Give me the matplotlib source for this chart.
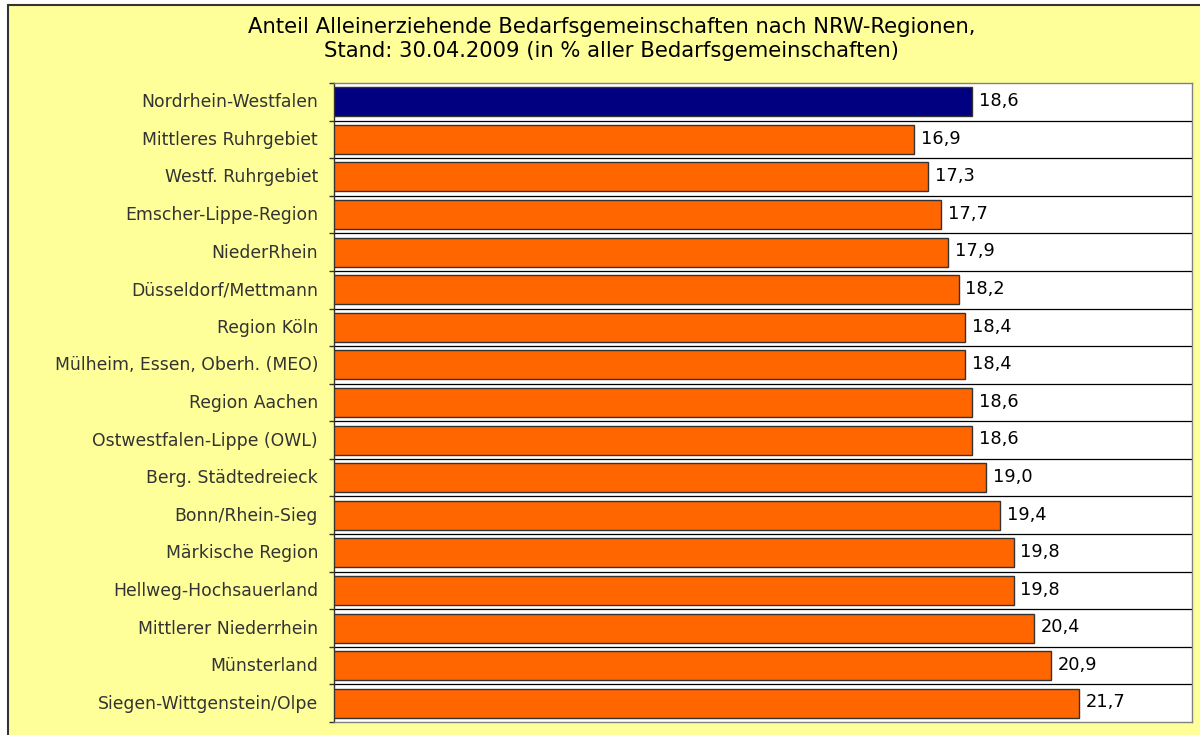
import matplotlib.pyplot as plt
from matplotlib.patches import Rectangle
import numpy as np

regionen = ["Nordrhein-Westfalen", "Mittleres Ruhrgebiet", "Westf. Ruhrgebiet",
            "Emscher-Lippe-Region", "NiederRhein", "Düsseldorf/Mettmann",
            "Region Köln", "Mülheim, Essen, Oberh. (MEO)", "Region Aachen",
            "Ostwestfalen-Lippe (OWL)", "Berg. Städtedreieck", "Bonn/Rhein-Sieg",
            "Märkische Region", "Hellweg-Hochsauerland", "Mittlerer Niederrhein",
            "Münsterland", "Siegen-Wittgenstein/Olpe"]
anteil = [18.6, 16.9, 17.3, 17.7, 17.9, 18.2, 18.4, 18.4, 18.6,
          18.6, 19.0, 19.4, 19.8, 19.8, 20.4, 20.9, 21.7]

plt.rcParams['font.family'] = 'DejaVu Sans'

fig = plt.figure(figsize=(12, 7.35), dpi=100, facecolor='white')
# yellow chart area with dark frame
fig.patches.append(Rectangle((8/1200, -0.05), 1.1, 1 - 5/735 + 0.05,
                             transform=fig.transFigure, facecolor='#FFFF99',
                             edgecolor='#333333', linewidth=1.5, zorder=-5))

ax = fig.add_axes([334/1200, 1 - 722/735, (1192 - 334)/1200, (722 - 83)/735])
ax.set_facecolor('white')

y = np.arange(len(regionen))
farben = ['#000080'] + ['#FF6600'] * (len(regionen) - 1)
ax.barh(y, anteil, height=0.77, color=farben, edgecolor='#333333',
        linewidth=1, zorder=3)

for yi, v in zip(y, anteil):
    ax.text(v + 0.2, yi - 0.02, f"{v:.1f}".replace('.', ','), va='center', ha='left',
            fontsize=12.8, color='black', zorder=4)

ax.set_xlim(0, 25)
ax.set_ylim(len(regionen) - 0.5, -0.5)

# category boundaries as grid lines
for b in np.arange(0.5, len(regionen) - 0.5, 1):
    ax.axhline(b, color='black', linewidth=0.9, zorder=1)

ax.set_yticks(np.arange(-0.5, len(regionen), 1))
ax.set_yticklabels([])
ax.set_yticks(y - 0.04, minor=True)
ax.set_yticklabels(regionen, minor=True, fontsize=12.4, color='#333333')
ax.tick_params(axis='y', which='minor', length=0, pad=11.5)
ax.tick_params(axis='y', which='major', length=3.8, width=1, color='#333333')
ax.set_xticks([])

for s in ax.spines.values():
    s.set_color('#808080')
    s.set_linewidth(1)
ax.spines['left'].set_color('#333333')

fig.text(612/1200, 1 - 39/735,
         "Anteil Alleinerziehende Bedarfsgemeinschaften nach NRW-Regionen,\n"
         "Stand: 30.04.2009 (in % aller Bedarfsgemeinschaften)",
         ha='center', va='center', fontsize=15.2, color='black', linespacing=1.2)

fig.savefig('out.png', dpi=100, facecolor='white')
